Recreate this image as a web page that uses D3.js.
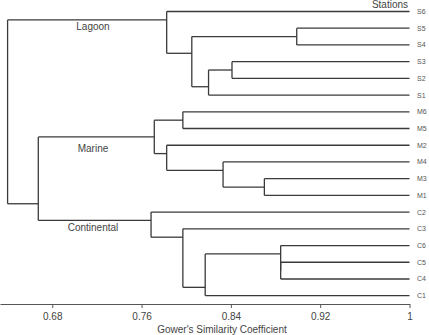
<!DOCTYPE html>
<html>
<head>
<meta charset="utf-8">
<script src="https://cdn.jsdelivr.net/npm/d3@7/dist/d3.min.js"></script>
<style>
  body { margin: 0; background: #fff; }
  svg { display: block; font-family: "Liberation Sans", Arial, sans-serif; }
</style>
</head>
<body>
<svg id="chart" width="429" height="335"></svg>
<script>
// leaf order, top to bottom
const stations = ["S6", "S5", "S4", "S3", "S2", "S1",
  "M6", "M5", "M2", "M4", "M3", "M1",
  "C2", "C3", "C6", "C5", "C4", "C1"];

// [node, upper child, lower child, similarity at which they join]
const merges = [
  ["a", "S5", "S4", 0.899],
  ["b", "S3", "S2", 0.841],
  ["c", "b", "S1", 0.820],
  ["d", "a", "c", 0.805],
  ["Lagoon", "S6", "d", 0.7825],
  ["e", "M6", "M5", 0.797],
  ["f", "M3", "M1", 0.870],
  ["g", "M4", "f", 0.833],
  ["h", "M2", "g", 0.7825],
  ["Marine", "e", "h", 0.7714],
  ["i", "C5", "C4", 0.8846],
  ["j", "C6", "i", 0.8846],
  ["k", "j", "C1", 0.817],
  ["l", "C3", "k", 0.797],
  ["Continental", "C2", "l", 0.7685],
  ["m", "Marine", "Continental", 0.6675],
  ["root", "Lagoon", "m", 0.640]
];

const clusterLabels = ["Lagoon", "Marine", "Continental"];
const tickValues = [0.68, 0.76, 0.84, 0.92, 1];

const svg = d3.select("#chart");
const axisY = 304;
const lineColor = "#3a3a3a";

const x = d3.scaleLinear().domain([0.6332, 1]).range([0, 409.5]);
const y = d3.scalePoint().domain(stations).range([11.5, 295.7]);

// leaves spanned by each node, and the y where its parent link attaches
const leaves = {}, yPos = {}, height = {}, parentOf = {};
stations.forEach(s => { leaves[s] = [s]; yPos[s] = y(s); height[s] = 1; });
merges.forEach(([id, a, b, v]) => {
  leaves[id] = leaves[a].concat(leaves[b]);
  height[id] = v;
  parentOf[a] = id;
  parentOf[b] = id;
  yPos[id] = (y(leaves[a][leaves[a].length - 1]) + y(leaves[b][0])) / 2;
});

const g = svg.append("g")
  .attr("fill", "none")
  .attr("stroke", lineColor)
  .attr("stroke-width", 1.3);

// vertical joins
g.selectAll("line.v")
  .data(merges)
  .join("line")
  .attr("class", "v")
  .attr("x1", d => x(d[3])).attr("x2", d => x(d[3]))
  .attr("y1", d => yPos[d[1]]).attr("y2", d => yPos[d[2]]);

// horizontal links from parent to child
const children = Object.keys(parentOf);
g.selectAll("line.h")
  .data(children)
  .join("line")
  .attr("class", "h")
  .attr("x1", d => x(height[parentOf[d]]))
  .attr("x2", d => x(height[d]))
  .attr("y1", d => yPos[d]).attr("y2", d => yPos[d]);

// station labels
svg.append("g")
  .selectAll("text")
  .data(stations)
  .join("text")
  .attr("x", x(1) + 7.5)
  .attr("y", d => y(d))
  .attr("dy", "0.35em")
  .attr("font-size", 7)
  .attr("fill", "#555")
  .text(d => d);

// cluster names, under the link that leads into each group
const labelDy = { Lagoon: 10, Marine: 15.5, Continental: 11 };
svg.append("g")
  .selectAll("text")
  .data(clusterLabels)
  .join("text")
  .attr("x", 93)
  .attr("y", d => yPos[d] + labelDy[d])
  .attr("text-anchor", "middle")
  .attr("font-size", 10)
  .attr("fill", "#444")
  .text(d => d);

// axis
const axis = svg.append("g")
  .attr("transform", `translate(0,${axisY})`)
  .call(d3.axisBottom(x)
    .tickValues(tickValues)
    .tickSize(4)
    .tickSizeOuter(0)
    .tickPadding(5)
    .tickFormat(d => d === 1 ? "1" : d3.format(".2f")(d)));
axis.select(".domain").attr("stroke", "#555").attr("stroke-width", 1.2);
axis.selectAll(".tick line").attr("stroke", "#555");
axis.selectAll(".tick text")
  .attr("font-size", 10)
  .attr("font-family", "Liberation Sans, Arial, sans-serif")
  .attr("fill", "#444");

svg.append("text")
  .attr("x", 222)
  .attr("y", 333)
  .attr("text-anchor", "middle")
  .attr("font-size", 10)
  .attr("fill", "#444")
  .text("Gower's Similarity Coefficient");

svg.append("text")
  .attr("x", 390)
  .attr("y", 7.5)
  .attr("text-anchor", "middle")
  .attr("font-size", 10)
  .attr("fill", "#444")
  .text("Stations");
</script>
</body>
</html>
